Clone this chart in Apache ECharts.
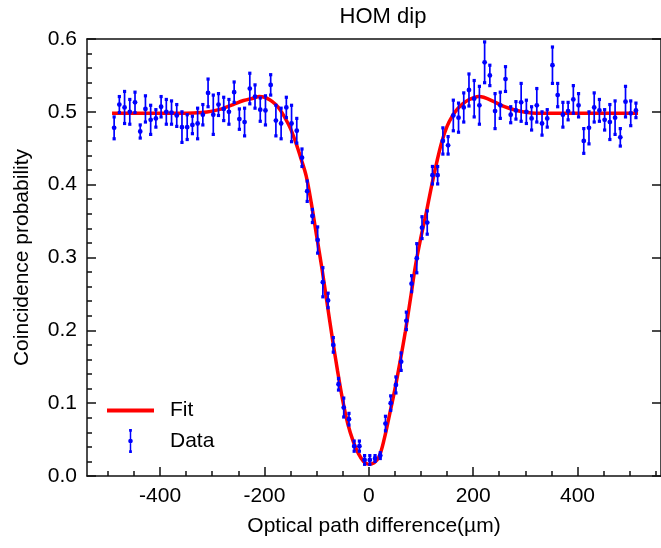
<!DOCTYPE html>
<html>
<head>
<meta charset="utf-8">
<script src="https://cdn.jsdelivr.net/npm/echarts@6/dist/echarts.min.js"></script>
<style>
html,body{margin:0;padding:0;background:#fff;}
#chart{width:661px;height:548px;}
</style>
</head>
<body>
<div id="chart"></div>
<script>
// ---- data ----
const dataX = [-488,-478,-468,-458,-448,-438,-428,-418,-408,-398,-388,-378,-368,-358,-348,-338,-328,-318,-308,-298,-288,-278,-268,-258,-248,-238,-228,-218,-208,-198,-188,-178,-168,-158,-148,-138,-128,-118,-108,-98,-88,-78,-68,-58,-48,-38,-28,-18,-8,2,12,22,32,42,52,62,72,82,92,102,112,122,132,142,152,162,172,182,192,202,212,222,232,242,252,262,272,282,292,302,312,322,332,342,352,362,372,382,392,402,412,422,432,442,452,462,472,482,492,502,512];
const dataY = [
0.478,0.510,0.506,0.500,0.513,0.473,0.504,0.489,0.491,0.507,
0.500,0.499,0.495,0.479,0.479,0.482,0.484,0.496,0.526,0.496,
0.510,0.504,0.500,0.527,0.490,0.486,0.532,0.521,0.503,0.502,
0.537,0.488,0.484,0.506,0.484,0.474,0.437,0.391,0.357,0.324,
0.266,0.241,0.180,0.126,0.094,0.078,0.041,0.041,0.022,0.022,
0.024,0.028,0.072,0.100,0.125,0.157,0.213,0.264,0.299,0.341,
0.348,0.413,0.413,0.460,0.454,0.495,0.492,0.506,0.530,0.518,
0.509,0.568,0.550,0.501,0.509,0.545,0.496,0.502,0.513,0.500,
0.491,0.509,0.484,0.491,0.564,0.523,0.496,0.501,0.517,0.509,
0.460,0.478,0.506,0.502,0.489,0.486,0.492,0.465,0.514,0.498,
0.502];
const dataErr = [
0.015,0.011,0.022,0.017,0.014,0.009,0.018,0.020,0.012,0.014,
0.017,0.016,0.015,0.021,0.017,0.012,0.021,0.014,0.019,0.027,
0.015,0.016,0.017,0.014,0.014,0.019,0.021,0.016,0.016,0.020,
0.014,0.021,0.021,0.014,0.025,0.017,0.012,0.014,0.009,0.018,
0.020,0.010,0.010,0.008,0.013,0.008,0.007,0.007,0.006,0.006,
0.004,0.004,0.010,0.010,0.011,0.012,0.012,0.011,0.020,0.015,
0.016,0.012,0.012,0.018,0.012,0.021,0.020,0.020,0.022,0.025,
0.026,0.028,0.014,0.024,0.018,0.017,0.011,0.012,0.026,0.016,
0.016,0.023,0.016,0.012,0.025,0.016,0.017,0.012,0.019,0.016,
0.017,0.022,0.020,0.015,0.014,0.024,0.023,0.012,0.021,0.017,
0.010];
const fitX = [-492,-450,-400,-350,-320,-300,-280,-260,-240,-220,-210,-200,-190,-180,-170,-160,-150,-140,-130,-120,-110,-100,-90,-80,-70,-60,-50,-40,-30,-20,-10,0,10,20,30,40,50,60,70,80,90,100,110,120,130,140,150,160,170,180,190,200,210,220,240,260,280,300,320,350,400,450,516];
const fitY = [0.498,0.498,0.498,0.498,0.499,0.501,0.5045,0.510,0.5155,0.519,0.521,0.520,0.5165,0.511,0.503,0.491,0.477,0.458,0.436,0.412,0.374,0.330,0.286,0.238,0.190,0.145,0.104,0.071,0.048,0.031,0.020,0.016,0.018,0.027,0.052,0.085,0.119,0.157,0.198,0.244,0.291,0.328,0.361,0.397,0.430,0.459,0.480,0.494,0.504,0.511,0.516,0.519,0.521,0.520,0.514,0.507,0.5025,0.4995,0.498,0.498,0.498,0.498,0.498];
const xMajorTicks = [-400,-200,0,200,400];
const xMinorTicks = [-500,-450,-350,-300,-250,-150,-100,-50,50,100,150,250,300,350,450,500,550];
const yTicks = [0.0,0.1,0.2,0.3,0.4,0.5,0.6];
const seriesNames = ['Fit','Data'];

// ---- build chart ----
const FONT = '"Liberation Sans", Arial, Helvetica, sans-serif';
const BLUE = '#0000ff', RED = '#ff0000', AX = '#111';
const errData = dataX.map((x,i)=>[x,dataY[i],dataErr[i]]);
const fitData = fitX.map((x,i)=>[x,fitY[i]]);

const chart = echarts.init(document.getElementById('chart'), null, {renderer:'canvas'});
const xBase = {min:-540, max:560, type:'value', splitLine:{show:false}};
chart.setOption({
  animation:false,
  backgroundColor:'#fff',
  textStyle:{fontFamily:FONT},
  title:{text:'HOM dip', left:378, textAlign:'center', top:1,
    textStyle:{fontFamily:FONT, fontSize:22, fontWeight:'normal', color:'#000'}},
  grid:{left:87, top:39, width:580, height:437},
  legend:{
    orient:'vertical', left:107, top:400, padding:0, itemGap:8,
    itemWidth:47, itemHeight:24, selectedMode:false,
    textStyle:{fontFamily:FONT, fontSize:21, color:'#000', padding:[0,0,0,11]},
    data:[
      {name:seriesNames[0], icon:'path://M0,0 H47 V4 H0 Z', itemStyle:{color:RED}},
      {name:seriesNames[1], icon:'path://M1,0 H4 V3 H3.3 V23 H4 V26 H1 V23 H1.7 V3 H1 Z M0,13 A2.5,2.5 0 1 1 5,13 A2.5,2.5 0 1 1 0,13 Z', itemStyle:{color:BLUE}}
    ]
  },
  xAxis:[
    Object.assign({}, xBase, {
      position:'bottom',
      name:'Optical path difference(\u00b5m)', nameLocation:'middle', nameGap:40,
      nameTextStyle:{fontFamily:FONT, fontSize:21, color:'#000'},
      axisLine:{onZero:false, lineStyle:{color:AX, width:1.5}},
      axisTick:{inside:true, length:9, customValues:xMajorTicks, lineStyle:{color:AX, width:1.5}},
      axisLabel:{customValues:xMajorTicks, fontFamily:FONT, fontSize:21, color:'#000', margin:10}
    }),
    Object.assign({}, xBase, {
      position:'bottom',
      axisLine:{show:false, onZero:false},
      axisTick:{inside:true, length:5, customValues:xMinorTicks, lineStyle:{color:AX, width:1.5}},
      axisLabel:{show:false}
    }),
    Object.assign({}, xBase, {
      position:'top',
      axisLine:{onZero:false, lineStyle:{color:AX, width:1.5}},
      axisTick:{show:false}, axisLabel:{show:false}
    })
  ],
  yAxis:[
    {type:'value', min:0, max:0.6, interval:0.1, position:'left',
     name:'Coincidence probability', nameLocation:'middle', nameGap:54, nameRotate:90,
     nameTextStyle:{fontFamily:FONT, fontSize:21, color:'#000'},
     splitLine:{show:false},
     axisLine:{show:true, onZero:false, lineStyle:{color:AX, width:1.5}},
     axisTick:{show:true, inside:true, length:9, lineStyle:{color:AX, width:1.5}},
     minorTick:{show:true, splitNumber:5, length:5, lineStyle:{color:AX, width:1.5}},
     axisLabel:{fontFamily:FONT, fontSize:21, color:'#000', margin:10,
       formatter:(v)=>{const t=yTicks.find(q=>Math.abs(q-v)<1e-9); return (t===undefined?v:t).toFixed(1);}}
    },
    {type:'value', min:0, max:0.6, interval:0.1, position:'right',
     splitLine:{show:false},
     axisLine:{show:true, onZero:false, lineStyle:{color:AX, width:1.5}},
     axisTick:{show:true, inside:true, length:9, lineStyle:{color:AX, width:1.5}},
     axisLabel:{show:false}
    }
  ],
  series:[
    {name:seriesNames[0], type:'line', data:fitData, smooth:0.35, symbol:'none',
     color:RED, lineStyle:{color:RED, width:3.5}, z:2, clip:true},
    {name:seriesNames[1], type:'custom', data:errData, color:BLUE, z:3,
     encode:{x:0, y:1},
     renderItem:function(params, api){
       const x = api.value(0), y = api.value(1), e = api.value(2);
       const c = api.coord([x,y]);
       const hi = api.coord([x,y+e]);
       const lo = api.coord([x,y-e]);
       return {type:'group', children:[
         {type:'line', shape:{x1:c[0], y1:hi[1], x2:c[0], y2:lo[1]}, style:{stroke:BLUE, lineWidth:1.7}},
         {type:'rect', shape:{x:c[0]-1.6, y:hi[1]-1.6, width:3.2, height:3.2}, style:{fill:BLUE}},
         {type:'rect', shape:{x:c[0]-1.6, y:lo[1]-1.6, width:3.2, height:3.2}, style:{fill:BLUE}},
         {type:'circle', shape:{cx:c[0], cy:c[1], r:2.4}, style:{fill:BLUE}}
       ]};
     }
    }
  ]
});
</script>
</body>
</html>
